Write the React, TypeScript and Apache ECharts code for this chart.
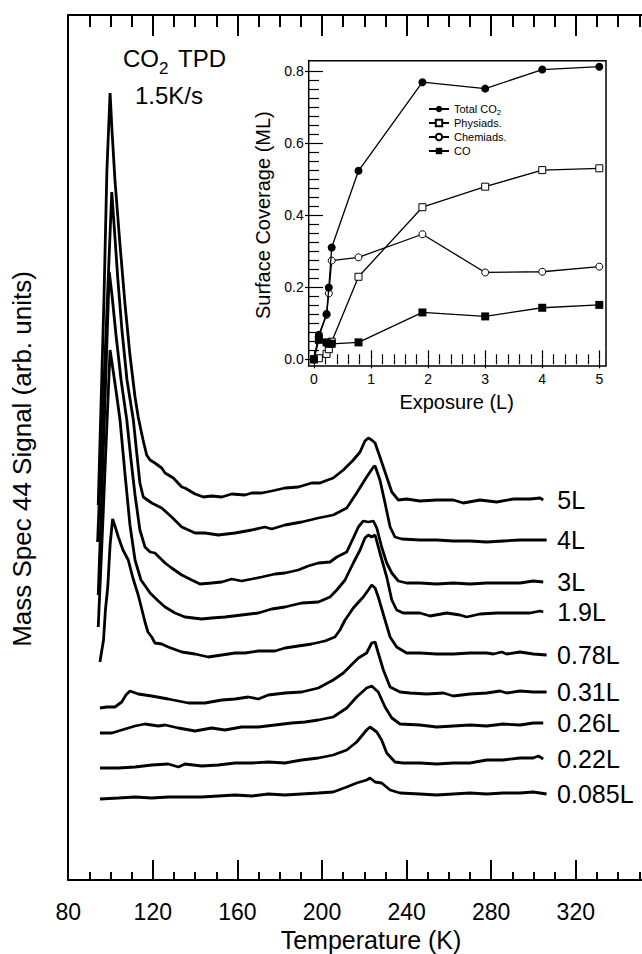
import React, { useEffect, useRef } from "react";
import * as echarts from "echarts";

const FONT = '"Liberation Sans", Arial, Helvetica, sans-serif';

// ---- Main TPD traces: [temperature (K), signal (arb. units)] ----
const curveLabels = ["5L", "4L", "3L", "1.9L", "0.78L", "0.31L", "0.26L", "0.22L", "0.085L"];

const tpd5L = [
  [94.2, 375], [96.9, 580], [98.3, 710], [99.8, 787], [100.7, 750], [102.1, 700], [104.5, 635],
  [106.9, 575], [109.2, 525], [111.6, 483], [113.1, 463], [115.4, 440], [117.1, 425], [118.7, 420],
  [121.0, 417], [124.2, 412], [125.8, 407], [129.7, 402], [133.7, 393], [135.2, 392], [140.0, 386],
  [143.9, 383], [147.8, 384], [152.6, 383], [157.3, 386], [163.6, 385], [166.8, 387], [171.5, 387],
  [176.2, 389], [182.5, 392], [188.8, 393], [195.1, 397], [199.1, 397], [201.4, 399], [205.3, 402],
  [210.1, 410], [214.8, 420], [218.0, 428], [220.3, 439], [221.9, 442], [223.5, 440], [225.1, 437],
  [227.4, 423], [230.6, 403], [233.0, 388], [236.1, 380], [240.0, 381], [246.3, 379], [254.2, 380],
  [262.1, 380], [266.8, 377], [274.7, 380], [282.6, 378], [290.5, 381], [298.4, 381], [303.1, 382],
  [304.6, 380],
];
const tpd4L = [
  [93.9, 338], [96.9, 495], [98.8, 595], [100.6, 688], [101.7, 655], [103.5, 600], [105.4, 550],
  [107.8, 500], [110.8, 460], [112.5, 425], [113.9, 397], [115.5, 383], [119.5, 377], [124.2, 372],
  [128.9, 363], [133.7, 353], [140.0, 347], [144.7, 347], [151.0, 345], [158.9, 347], [166.8, 350],
  [173.0, 353], [176.2, 351], [182.5, 355], [190.4, 358], [198.3, 362], [205.3, 365], [211.7, 372],
  [216.4, 387], [221.1, 403], [224.3, 413], [225.1, 414], [227.4, 400], [229.8, 377], [232.2, 353],
  [234.5, 343], [237.7, 341], [246.3, 340], [254.2, 340], [262.1, 339], [270.0, 339], [277.9, 338],
  [285.7, 339], [293.6, 340], [306.2, 340],
];
const tpd3L = [
  [94.2, 285], [96.5, 423], [97.9, 511], [99.4, 608], [100.7, 585], [102.6, 545], [105.0, 500],
  [107.7, 460], [109.7, 420], [111.6, 385], [113.9, 350], [116.3, 333], [118.7, 328], [121.0, 327],
  [125.8, 317], [128.9, 312], [133.7, 305], [138.4, 300], [142.3, 296], [147.8, 297], [152.6, 298],
  [157.3, 301], [162.0, 299], [166.8, 301], [171.5, 303], [177.8, 306], [182.5, 307], [188.8, 310],
  [193.5, 314], [198.3, 317], [203.8, 318], [207.0, 323], [211.7, 328], [214.8, 342], [217.2, 353],
  [219.5, 359], [221.9, 358], [224.3, 359], [225.9, 352], [228.2, 333], [230.6, 317], [233.0, 307],
  [236.1, 299], [240.0, 297], [246.3, 297], [254.2, 296], [262.1, 297], [270.0, 296], [277.9, 297],
  [285.7, 297], [293.6, 297], [299.9, 299], [304.6, 298],
];
const tpd19L = [
  [94.2, 253], [96.5, 364], [97.9, 435], [99.8, 530], [101.2, 510], [102.9, 485], [104.5, 460],
  [106.9, 405], [109.2, 355], [111.6, 320], [114.4, 300], [117.1, 292], [118.7, 287], [122.6, 279],
  [125.8, 273], [130.5, 267], [135.2, 263], [143.1, 261], [147.8, 262], [154.1, 263], [162.0, 265],
  [169.9, 267], [176.2, 271], [182.5, 273], [190.4, 277], [198.3, 278], [203.8, 283], [207.0, 290],
  [210.9, 300], [214.8, 317], [218.0, 330], [220.3, 342], [221.9, 345], [223.5, 343], [225.1, 345],
  [227.4, 327], [230.6, 303], [233.0, 280], [235.3, 270], [238.4, 267], [246.3, 267], [251.1, 264],
  [259.0, 267], [265.2, 265], [268.4, 263], [274.7, 266], [282.6, 267], [290.5, 267], [298.4, 267],
  [303.1, 269], [304.6, 268],
];
const tpd078L = [
  [95.0, 218], [96.7, 240], [97.6, 270], [98.7, 293], [99.8, 335], [101.0, 361], [102.1, 354],
  [103.7, 343], [105.9, 330], [108.4, 320], [110.6, 302], [113.1, 285], [114.9, 270], [116.3, 258],
  [117.7, 248], [119.5, 243], [121.0, 237], [124.2, 236], [127.3, 233], [133.7, 228], [140.0, 226],
  [146.2, 223], [152.6, 225], [158.9, 227], [163.6, 227], [169.9, 229], [177.8, 229], [182.5, 232],
  [188.8, 234], [195.1, 236], [201.4, 239], [206.1, 243], [208.5, 250], [210.9, 260], [214.8, 272],
  [219.5, 283], [221.9, 290], [223.5, 295], [225.1, 292], [226.6, 283], [229.8, 260], [232.2, 243],
  [235.3, 233], [240.0, 227], [246.3, 227], [254.2, 226], [262.1, 226], [270.0, 227], [277.9, 227],
  [281.0, 226], [285.0, 228], [287.3, 226], [293.6, 228], [299.9, 226], [306.2, 225],
];
const tpd031L = [
  [95.0, 172], [98.3, 173], [102.1, 173], [105.3, 178], [107.3, 185], [109.2, 189], [113.1, 186],
  [119.5, 184], [127.3, 181], [136.8, 177], [144.7, 177], [152.6, 180], [158.9, 181], [165.2, 183],
  [169.9, 181], [174.6, 185], [182.5, 187], [190.4, 188], [198.3, 192], [205.3, 200], [210.1, 207],
  [214.8, 217], [217.2, 222], [221.1, 227], [223.5, 237], [225.1, 238], [226.6, 227], [229.0, 210],
  [232.2, 193], [236.9, 188], [241.6, 187], [249.5, 186], [257.4, 187], [262.1, 184], [270.0, 186],
  [277.9, 187], [284.2, 189], [287.3, 187], [293.6, 189], [299.9, 188], [306.2, 188],
];
const tpd026L = [
  [95.0, 147], [100.7, 147], [105.3, 150], [111.6, 154], [116.3, 156], [122.6, 154], [125.8, 155],
  [132.1, 152], [140.0, 149], [147.8, 152], [154.1, 150], [162.0, 153], [169.9, 153], [177.8, 155],
  [185.7, 157], [192.0, 158], [198.3, 160], [205.3, 163], [211.7, 172], [216.4, 183], [221.1, 192],
  [223.5, 194], [226.6, 188], [229.8, 173], [233.0, 162], [236.9, 156], [246.3, 155], [254.2, 153],
  [262.1, 154], [270.0, 155], [277.9, 154], [285.7, 156], [293.6, 155], [299.9, 157], [304.6, 157],
];
const tpd022L = [
  [95.0, 112], [103.7, 112], [111.6, 113], [119.5, 115], [127.3, 116], [132.1, 113], [135.2, 116],
  [143.1, 114], [151.0, 115], [158.9, 117], [166.8, 117], [174.6, 118], [182.5, 117], [190.4, 120],
  [198.3, 122], [205.3, 125], [211.7, 130], [216.4, 138], [221.1, 150], [222.7, 153], [225.9, 148],
  [228.2, 140], [230.6, 127], [234.5, 118], [238.4, 117], [246.3, 117], [254.2, 116], [262.1, 117],
  [270.0, 117], [277.9, 120], [285.7, 120], [293.6, 122], [299.9, 122], [302.3, 124], [304.6, 121],
];
const tpd0085L = [
  [95.0, 81], [103.7, 82], [111.6, 83], [119.5, 82], [127.3, 83], [135.2, 83], [143.1, 83],
  [151.0, 84], [158.9, 85], [166.8, 84], [174.6, 86], [182.5, 85], [190.4, 86], [198.3, 87],
  [205.3, 88], [211.7, 93], [216.4, 97], [221.1, 100], [222.7, 102], [225.1, 98], [228.2, 97],
  [232.2, 90], [236.9, 87], [246.3, 86], [254.2, 85], [262.1, 86], [270.0, 87], [277.9, 86],
  [285.7, 87], [293.6, 87], [299.9, 88], [306.2, 86],
];
const tpdCurves = [tpd5L, tpd4L, tpd3L, tpd19L, tpd078L, tpd031L, tpd026L, tpd022L, tpd0085L];

// ---- Inset: surface coverage vs exposure ----
const exposure = [0, 0.085, 0.22, 0.26, 0.31, 0.78, 1.9, 3, 4, 5];
const totalCO2 = [0, 0.068, 0.126, 0.199, 0.31, 0.523, 0.769, 0.751, 0.804, 0.812];
const physiads = [0, 0.003, 0.015, 0.028, 0.049, 0.229, 0.422, 0.479, 0.525, 0.53];
const chemiads = [0, 0.064, 0.123, 0.183, 0.274, 0.283, 0.347, 0.241, 0.243, 0.257];
const coCoverage = [0, 0.054, 0.047, 0.043, 0.043, 0.047, 0.13, 0.119, 0.143, 0.151];
const insetNames = ["Total CO2", "Physiads.", "Chemiads.", "CO"];

export default function App() {
  const ref = useRef<HTMLDivElement>(null);

  useEffect(() => {
    if (!ref.current) return;
    const chart = echarts.init(ref.current, undefined, { renderer: "svg" });

    const black = "#000";
    const mainTick = (len: number, minorLen: number) => ({
      axisTick: { show: true, inside: true, length: len, lineStyle: { color: black, width: 2 } },
      minorTick: { show: true, splitNumber: 4, length: minorLen, lineStyle: { color: black, width: 2 } },
    });
    const insetTickX = {
      axisTick: { show: true, inside: true, length: 9, lineStyle: { color: black, width: 1.2 } },
      minorTick: { show: true, splitNumber: 5, length: 5, lineStyle: { color: black, width: 1.2 } },
    };
    const insetTickY = {
      axisTick: { show: true, inside: true, length: 9, lineStyle: { color: black, width: 1.2 } },
      minorTick: { show: true, splitNumber: 8, length: 5, lineStyle: { color: black, width: 1.2 } },
    };

    const mainSeries = tpdCurves.map((d, i) => ({
      name: curveLabels[i],
      type: "line",
      xAxisIndex: 0,
      yAxisIndex: 0,
      data: d,
      showSymbol: false,
      symbol: "none",
      lineStyle: { color: black, width: 2.8 },
      itemStyle: { color: black },
      endLabel: {
        show: true,
        formatter: curveLabels[i],
        color: black,
        fontSize: 25,
        fontFamily: FONT,
        distance: d[d.length - 1][0] >= 306 ? 10.5 : 14,
      },
    }));

    const pairs = (ys: number[]) => exposure.map((x, i) => [x, ys[i]]);
    const insetLine = { color: black, width: 1.3 };
    const insetSeries = [
      {
        name: insetNames[0], type: "line", xAxisIndex: 2, yAxisIndex: 1, data: pairs(totalCO2), clip: false,
        symbol: "circle", symbolSize: 8, lineStyle: insetLine, itemStyle: { color: black }, z: 6,
      },
      {
        name: insetNames[1], type: "line", xAxisIndex: 2, yAxisIndex: 1, data: pairs(physiads), clip: false,
        symbol: "rect", symbolSize: 7, lineStyle: insetLine,
        itemStyle: { color: "#fff", borderColor: black, borderWidth: 1 }, z: 4,
      },
      {
        name: insetNames[2], type: "line", xAxisIndex: 2, yAxisIndex: 1, data: pairs(chemiads), clip: false,
        symbol: "circle", symbolSize: 7, lineStyle: insetLine,
        itemStyle: { color: "#fff", borderColor: black, borderWidth: 1 }, z: 5,
      },
      {
        name: insetNames[3], type: "line", xAxisIndex: 2, yAxisIndex: 1, data: pairs(coCoverage), clip: false,
        symbol: "rect", symbolSize: 8, lineStyle: insetLine, itemStyle: { color: black }, z: 7,
      },
    ];

    const option: any = {
      animation: false,
      backgroundColor: "#fff",
      textStyle: { fontFamily: FONT, color: black },
      grid: [
        { left: 68.2, top: 15, width: 592.2, height: 865 },
        { left: 314, top: 71, width: 285.3, height: 288.3 },
      ],
      xAxis: [
        {
          gridIndex: 0, type: "value", position: "bottom", min: 80, max: 360, interval: 40,
          axisLine: { show: true, lineStyle: { color: black, width: 2 } },
          ...mainTick(20, 8),
          splitLine: { show: false },
          axisLabel: { show: true, showMaxLabel: false, fontSize: 23, color: black, margin: 20, fontFamily: FONT },
        },
        {
          gridIndex: 0, type: "value", position: "top", min: 80, max: 360, interval: 40,
          axisLine: { show: true, lineStyle: { color: black, width: 2 } },
          ...mainTick(21, 12),
          splitLine: { show: false },
          axisLabel: { show: false },
        },
        {
          gridIndex: 1, type: "value", position: "bottom", min: 0, max: 5, interval: 1, offset: 6.7,
          axisLine: { show: false },
          ...insetTickX,
          splitLine: { show: false },
          axisLabel: { show: true, fontSize: 14, color: black, margin: 6, fontFamily: FONT },
          name: "Exposure (L)", nameLocation: "middle", nameGap: 26,
          nameTextStyle: { fontSize: 20, color: black, fontFamily: FONT },
        },
        {
          gridIndex: 1, type: "value", position: "top", min: 0, max: 5, interval: 1, offset: 10.3,
          axisLine: { show: false },
          ...insetTickX,
          splitLine: { show: false },
          axisLabel: { show: false },
        },
      ],
      yAxis: [
        {
          gridIndex: 0, type: "value", min: 0, max: 865,
          axisLine: { show: true, lineStyle: { color: black, width: 2 } },
          axisTick: { show: false },
          axisLabel: { show: false },
          splitLine: { show: false },
        },
        {
          gridIndex: 1, type: "value", position: "left", min: 0, max: 0.8, interval: 0.2, offset: 5.3,
          axisLine: { show: false },
          ...insetTickY,
          splitLine: { show: false },
          axisLabel: {
            show: true, fontSize: 14, color: black, margin: 5, fontFamily: FONT,
            formatter: (v: number) => v.toFixed(1),
          },
          name: "Surface Coverage (ML)", nameLocation: "middle", nameGap: 36,
          nameTextStyle: { fontSize: 20, color: black, fontFamily: FONT },
        },
        {
          gridIndex: 1, type: "value", position: "right", min: 0, max: 0.8, interval: 0.2, offset: 6.7,
          axisLine: { show: false },
          ...insetTickY,
          splitLine: { show: false },
          axisLabel: { show: false },
        },
      ],
      legend: {
        data: insetNames,
        orient: "vertical",
        left: 423,
        top: 97,
        itemWidth: 20,
        itemHeight: 8,
        itemGap: 0,
        textStyle: {
          fontSize: 11, color: black, fontFamily: FONT, lineHeight: 14,
          rich: {
            a: { fontSize: 11, lineHeight: 14, fontFamily: FONT, color: black },
            s: { fontSize: 8, lineHeight: 14, fontFamily: FONT, color: black, padding: [6, 0, 0, 0] },
          },
        },
        formatter: (n: string) => (n === "Total CO2" ? "{a|Total CO}{s|2}" : n),
      },
      graphic: [
        {
          type: "rect", z: 10, silent: true,
          shape: { x: 308.7, y: 60.7, width: 297.3, height: 305.3 },
          style: { fill: "none", stroke: black, lineWidth: 1.5 },
        },
        {
          type: "text", x: 22, y: 459, rotation: Math.PI / 2, z: 10,
          style: {
            text: "Mass Spec 44 Signal (arb. units)", fill: black, font: `26px ${FONT}`,
            align: "center", verticalAlign: "middle",
          },
        },
        {
          type: "text", x: 371, y: 940, z: 10,
          style: {
            text: "Temperature (K)", fill: black, font: `25px ${FONT}`,
            align: "center", verticalAlign: "middle",
          },
        },
        {
          type: "text", x: 123, y: 58, z: 10,
          style: { text: "CO", fill: black, font: `24px ${FONT}`, align: "left", verticalAlign: "middle" },
        },
        {
          type: "text", x: 159, y: 68, z: 10,
          style: { text: "2", fill: black, font: `17px ${FONT}`, align: "left", verticalAlign: "middle" },
        },
        {
          type: "text", x: 178, y: 58, z: 10,
          style: { text: "TPD", fill: black, font: `24px ${FONT}`, align: "left", verticalAlign: "middle" },
        },
        {
          type: "text", x: 169, y: 95, z: 10,
          style: { text: "1.5K/s", fill: black, font: `24px ${FONT}`, align: "center", verticalAlign: "middle" },
        },
      ],
      series: [...mainSeries, ...insetSeries],
    };

    chart.setOption(option);
    return () => {
      chart.dispose();
    };
  }, []);

  return (
    <div style={{ position: "absolute", left: 0, top: 0, width: 642, height: 954, overflow: "hidden", background: "#fff" }}>
      <div ref={ref} style={{ width: 680, height: 954 }} />
    </div>
  );
}
